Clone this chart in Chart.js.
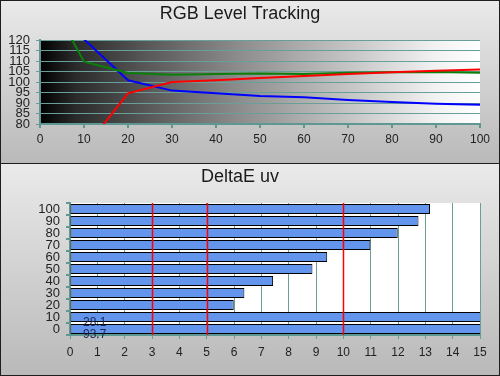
<!DOCTYPE html>
<html>
<head>
<meta charset="utf-8">
<script src="https://cdn.jsdelivr.net/npm/chart.js@4"></script>
<style>
  html, body { margin: 0; padding: 0; background: #fff; }
  #wrap { position: relative; width: 500px; height: 376px; overflow: hidden; }
  .panel {
    position: absolute; left: 0; width: 500px;
    background: linear-gradient(#eaeaea, #b9b9b9);
    box-shadow: inset 0 0 0 1px #1e1e1e;
  }
  #p1 { top: 0; height: 164px; }
  #p2 { top: 163px; height: 213px; }
  canvas { display: block; }
</style>
</head>
<body>
<div id="wrap">
  <div class="panel" id="p1"><canvas id="c-rgb" width="500" height="164"></canvas></div>
  <div class="panel" id="p2"><canvas id="c-de" width="500" height="213"></canvas></div>
</div>
<script>
// --- RGB level tracking (stimulus %, relative level %)
const levels = [0, 10, 20, 30, 40, 50, 60, 70, 80, 90, 100];
const redLevel = [null, 68, 94.6, 100.0, 100.8, 101.9, 102.9, 103.8, 104.6, 105.4, 105.9];
const greenLevel = [148, 109.7, 104.3, 103.5, 103.8, 104.1, 103.8, 104.4, 104.6, 104.8, 104.4];
const blueLevel = [null, 120.3, 100.8, 95.9, 94.6, 93.3, 92.7, 91.4, 90.5, 89.7, 89.2];
const rgbYTicks = [80, 120, 5];

// --- DeltaE uv per grey step
const greySteps = ['100', '90', '80', '70', '60', '50', '40', '30', '20', '10', '0'];
const deltaE = [13.17, 12.75, 11.99, 10.99, 9.41, 8.87, 7.43, 6.38, 5.99, 28.1, 93.7];
const deltaLimits = [3, 5, 10];
const deltaXMax = 15;

const FONT = 'Arial, "Liberation Sans", sans-serif';
const TEAL = '#6a9e99';
const TEAL_AXIS = '#5f9792';
Chart.defaults.font.family = FONT;
Chart.defaults.color = '#222';
Chart.defaults.animation = false;

const plotBg = {
  id: 'plotBg',
  beforeDraw(chart, args, opts) {
    const { ctx, chartArea: a } = chart;
    ctx.save();
    if (opts.gradient) {
      const g = ctx.createLinearGradient(a.left, 0, a.right, 0);
      g.addColorStop(0, '#000');
      g.addColorStop(0.08, '#2a2a2a');
      g.addColorStop(0.25, '#5a5a5a');
      g.addColorStop(0.45, '#8c8c8c');
      g.addColorStop(0.7, '#c4c4c4');
      g.addColorStop(0.9, '#f2f2f2');
      g.addColorStop(1, '#fff');
      ctx.fillStyle = g;
    } else {
      ctx.fillStyle = opts.color || '#fff';
    }
    ctx.fillRect(a.left, a.top, a.right - a.left, a.bottom - a.top);
    ctx.restore();
  }
};

const limitLines = {
  id: 'limitLines',
  afterDatasetsDraw(chart) {
    const { ctx, chartArea: a } = chart;
    const xs = chart.scales.x;
    ctx.save();
    ctx.strokeStyle = '#ff0000';
    ctx.lineWidth = 1.5;
    deltaLimits.forEach(v => {
      const px = Math.round(xs.getPixelForValue(v)) + 0.5;
      ctx.beginPath();
      ctx.moveTo(px, a.top);
      ctx.lineTo(px, a.bottom);
      ctx.stroke();
    });
    // values that run off the scale get printed inside the bar
    const meta = chart.getDatasetMeta(0);
    ctx.fillStyle = '#1b2550';
    ctx.font = '12px ' + FONT;
    ctx.textBaseline = 'middle';
    deltaE.forEach((v, i) => {
      if (v <= deltaXMax) return;
      const bar = meta.data[i];
      ctx.fillText(v.toFixed(1), xs.getPixelForValue(0) + 13, bar.y + 6);
    });
    ctx.restore();
  }
};

const series = (vals) => levels.map((x, i) => ({ x, y: vals[i] }));
const lineSet = (label, vals, color) => ({
  label, data: series(vals), borderColor: color, backgroundColor: color,
  borderWidth: 2, pointRadius: 0, tension: 0, clip: 0,
});

new Chart(document.getElementById('c-rgb'), {
  type: 'line',
  data: {
    datasets: [
      lineSet('Red', redLevel, '#ff0000'),
      lineSet('Green', greenLevel, '#0a800a'),
      lineSet('Blue', blueLevel, '#0000ff'),
    ],
  },
  plugins: [plotBg],
  options: {
    responsive: false,
    layout: { padding: { left: 0, right: 20, top: 0, bottom: 0 } },
    plugins: {
      legend: { display: false },
      tooltip: { enabled: false },
      plotBg: { gradient: true },
      title: {
        display: true, text: 'RGB Level Tracking', color: '#1a1a1a',
        font: { size: 18, weight: 'normal', family: FONT },
        padding: { top: 3, bottom: 15.4 },
      },
    },
    scales: {
      x: {
        type: 'linear', min: 0, max: 100,
        afterFit: s => { s.height = 40; },
        ticks: { stepSize: 10, autoSkip: false, maxRotation: 0, padding: 4, font: { size: 12 } },
        grid: { drawOnChartArea: false, color: TEAL_AXIS, tickLength: 4, lineWidth: 2 },
        border: { color: TEAL_AXIS, width: 2 },
      },
      y: {
        min: rgbYTicks[0], max: rgbYTicks[1],
        afterFit: s => { s.width = 40; },
        ticks: { stepSize: rgbYTicks[2], autoSkip: false, padding: 6, font: { size: 13 } },
        grid: { color: TEAL, tickLength: 4, lineWidth: 1 },
        border: { color: TEAL_AXIS, width: 2 },
      },
    },
  },
});

new Chart(document.getElementById('c-de'), {
  type: 'bar',
  data: {
    labels: greySteps,
    datasets: [{
      label: 'DeltaE uv',
      data: deltaE,
      backgroundColor: '#6495ed',
      borderColor: '#000',
      borderWidth: 1,
      borderSkipped: false,
      categoryPercentage: 1,
      barPercentage: 0.85,
    }],
  },
  plugins: [plotBg, limitLines],
  options: {
    indexAxis: 'y',
    responsive: false,
    layout: { padding: { left: 0, right: 20, top: 0, bottom: 0 } },
    plugins: {
      legend: { display: false },
      tooltip: { enabled: false },
      plotBg: { color: '#fff' },
      title: {
        display: true, text: 'DeltaE uv', color: '#1a1a1a',
        font: { size: 18, weight: 'normal', family: FONT },
        padding: { top: 3, bottom: 15.4 },
      },
    },
    scales: {
      x: {
        type: 'linear', min: 0, max: deltaXMax,
        afterFit: s => { s.height = 41; },
        ticks: { stepSize: 1, autoSkip: false, maxRotation: 0, padding: 6, font: { size: 12 } },
        grid: { color: TEAL, tickLength: 4, lineWidth: 1 },
        border: { color: TEAL_AXIS, width: 2 },
      },
      y: {
        afterFit: s => { s.width = 70; },
        ticks: { autoSkip: false, padding: 6, font: { size: 13 } },
        grid: { drawOnChartArea: false, color: TEAL_AXIS, tickLength: 4, lineWidth: 2 },
        border: { color: TEAL_AXIS, width: 2 },
      },
    },
  },
});
</script>
</body>
</html>
